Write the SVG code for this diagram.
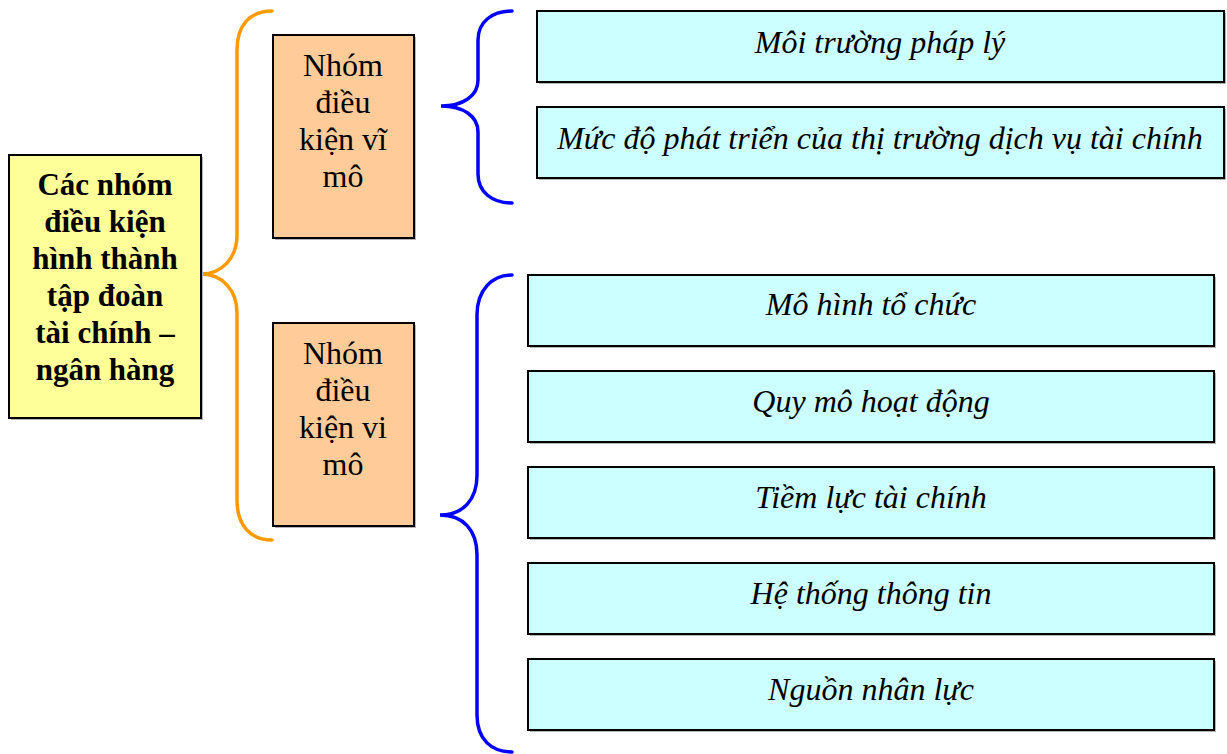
<svg xmlns="http://www.w3.org/2000/svg" width="1227" height="754" viewBox="0 0 1227 754">
<style>
.sh{fill:#b4b4b4}
.root{fill:#FFFF99;stroke:#000;stroke-width:2}
.grp{fill:#FFCC99;stroke:#000;stroke-width:2}
.leaf{fill:#CCFFFF;stroke:#000;stroke-width:2}
.tb{font-family:"Liberation Serif","Times New Roman",serif;font-weight:bold;font-size:31px;fill:#000;text-anchor:middle}
.tg{font-family:"Liberation Serif","Times New Roman",serif;font-size:32px;fill:#000;text-anchor:middle}
.ti{font-family:"Liberation Serif","Times New Roman",serif;font-style:italic;font-size:32px;fill:#000;text-anchor:middle}
.bo{fill:none;stroke:#FF9900;stroke-width:3.5;stroke-linecap:round}
.bb{fill:none;stroke:#0000FF;stroke-width:3.5;stroke-linecap:round}
</style>
<rect width="1227" height="754" fill="#fff"/>
<g id="connectors">
<path class="bo" d="M272,11 C250,11 237,25 237,50 L237,235 C237,258 222,274 201,274 C222,274 237,290 237,313 L237,500 C237,525 250,540 272,540"/>
<path class="bb" d="M512,11 C492,11 478,22 478,40 L478,80 C478,96 463,106 441,106 C463,106 478,116 478,132 L478,174 C478,192 492,203 512,203"/>
<path class="bb" d="M512,275 C492,275 477,290 477,315 L477,475 C477,500 463,515 440,515 C463,515 477,530 477,555 L477,715 C477,740 492,752 512,752"/>
</g>
<g id="root">
<rect class="sh" x="11" y="157" width="192" height="263"/>
<rect class="root" x="9" y="155" width="192" height="263"/>
<text class="tb" x="105" y="195">Các nhóm</text>
<text class="tb" x="105" y="232">điều kiện</text>
<text class="tb" x="105" y="269">hình thành</text>
<text class="tb" x="105" y="306">tập đoàn</text>
<text class="tb" x="105" y="343">tài chính –</text>
<text class="tb" x="105" y="380">ngân hàng</text>
</g>
<g id="macro">
<rect class="sh" x="275" y="37" width="141" height="203"/>
<rect class="grp" x="273" y="35" width="141" height="203"/>
<text class="tg" x="343" y="76">Nhóm</text>
<text class="tg" x="343" y="113">điều</text>
<text class="tg" x="343" y="150">kiện vĩ</text>
<text class="tg" x="343" y="187">mô</text>
</g>
<g id="micro">
<rect class="sh" x="275" y="325" width="141" height="203"/>
<rect class="grp" x="273" y="323" width="141" height="203"/>
<text class="tg" x="343" y="364">Nhóm</text>
<text class="tg" x="343" y="401">điều</text>
<text class="tg" x="343" y="438">kiện vi</text>
<text class="tg" x="343" y="475">mô</text>
</g>
<g id="leaf1">
<rect class="sh" x="539" y="13" width="687" height="71"/>
<rect class="leaf" x="537" y="11" width="687" height="71"/>
<text class="ti" x="880" y="53">Môi trường pháp lý</text>
</g>
<g id="leaf2">
<rect class="sh" x="539" y="109" width="687" height="71"/>
<rect class="leaf" x="537" y="107" width="687" height="71"/>
<text class="ti" x="880" y="149">Mức độ phát triển của thị trường dịch vụ tài chính</text>
</g>
<g id="leaf3">
<rect class="sh" x="530" y="277" width="686" height="71"/>
<rect class="leaf" x="528" y="275" width="686" height="71"/>
<text class="ti" x="871" y="315">Mô hình tổ chức</text>
</g>
<g id="leaf4">
<rect class="sh" x="530" y="373" width="686" height="71"/>
<rect class="leaf" x="528" y="371" width="686" height="71"/>
<text class="ti" x="871" y="412">Quy mô hoạt động</text>
</g>
<g id="leaf5">
<rect class="sh" x="530" y="469" width="686" height="71"/>
<rect class="leaf" x="528" y="467" width="686" height="71"/>
<text class="ti" x="871" y="508">Tiềm lực tài chính</text>
</g>
<g id="leaf6">
<rect class="sh" x="530" y="565" width="686" height="71"/>
<rect class="leaf" x="528" y="563" width="686" height="71"/>
<text class="ti" x="871" y="604">Hệ thống thông tin</text>
</g>
<g id="leaf7">
<rect class="sh" x="530" y="661" width="686" height="71"/>
<rect class="leaf" x="528" y="659" width="686" height="71"/>
<text class="ti" x="871" y="700">Nguồn nhân lực</text>
</g>
</svg>
